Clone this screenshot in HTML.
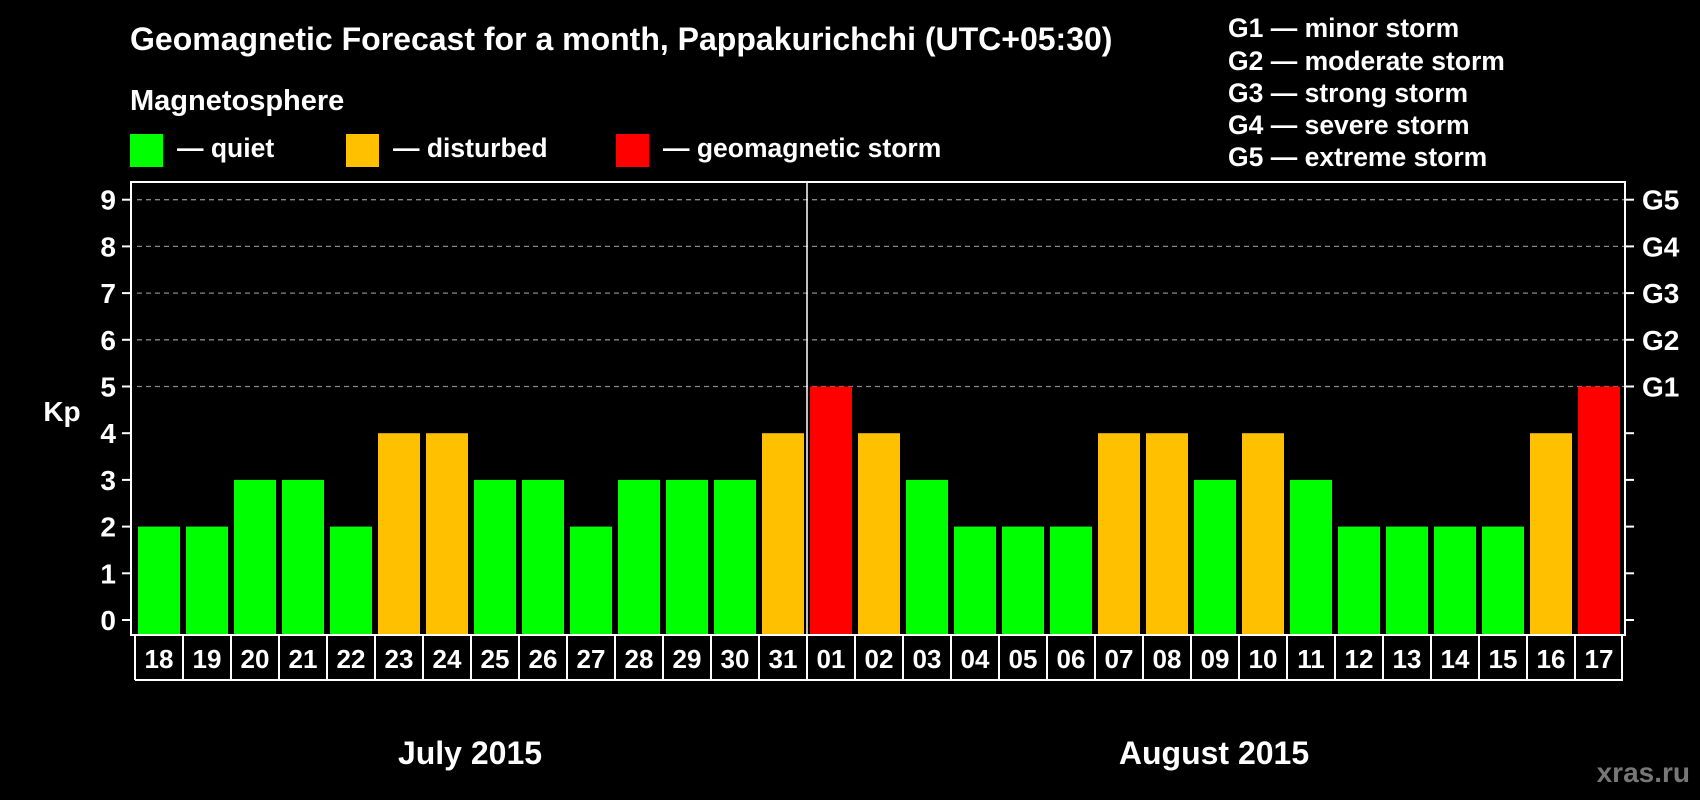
<!DOCTYPE html>
<html><head><meta charset="utf-8"><style>
html,body{margin:0;padding:0;background:#000;}
svg{display:block;font-family:"Liberation Sans",Arial,sans-serif;font-weight:bold;}
</style></head><body>
<svg id="c" width="1700" height="800" viewBox="0 0 1700 800">
<text x="130" y="50" fill="#fff" font-size="32">Geomagnetic Forecast for a month, Pappakurichchi (UTC+05:30)</text>
<text x="130" y="110" fill="#fff" font-size="29">Magnetosphere</text>
<g><rect x="130" y="134" width="33" height="33" fill="#00ff00"/><text x="177" y="157" fill="#fff" font-size="26.5">— quiet</text></g>
<g><rect x="346" y="134" width="33" height="33" fill="#ffc000"/><text x="393" y="157" fill="#fff" font-size="26.5">— disturbed</text></g>
<g><rect x="616" y="134" width="33" height="33" fill="#ff0000"/><text x="663" y="157" fill="#fff" font-size="26.5">— geomagnetic storm</text></g>
<g fill="#fff" font-size="26.5">
<text x="1228" y="37">G1 — minor storm</text>
<text x="1228" y="70">G2 — moderate storm</text>
<text x="1228" y="102">G3 — strong storm</text>
<text x="1228" y="134">G4 — severe storm</text>
<text x="1228" y="166">G5 — extreme storm</text>
</g>
<text x="62" y="421" fill="#fff" font-size="28" text-anchor="middle">Kp</text>
<g id="grid"></g><g id="bars"></g><g id="axes"></g>
<text x="470" y="764" fill="#fff" font-size="32" text-anchor="middle">July 2015</text>
<text x="1214" y="764" fill="#fff" font-size="32" text-anchor="middle">August 2015</text>
<text x="1690" y="782" fill="#777" font-size="28" text-anchor="end">xras.ru</text>
</svg>
<script>
const days=["18","19","20","21","22","23","24","25","26","27","28","29","30","31","01","02","03","04","05","06","07","08","09","10","11","12","13","14","15","16","17"];
const kp=[2,2,3,3,2,4,4,3,3,2,3,3,3,4,5,4,3,2,2,2,4,4,3,4,3,2,2,2,2,4,5];
const yTicks=[0,1,2,3,4,5,6,7,8,9];
const gLabels=["G1","G2","G3","G4","G5"];
const NS="http://www.w3.org/2000/svg";
const L=131,R=1625,T=182,B=635;
const y=v=>620-v*46.7;
const x0=i=>138+i*48;
function mk(t,a,p){const e=document.createElementNS(NS,t);for(const k in a)e.setAttribute(k,a[k]);p.appendChild(e);return e;}
const grid=document.getElementById('grid'),bars=document.getElementById('bars'),axes=document.getElementById('axes');
yTicks.forEach(v=>{
 if(v>=5){const g=mk('line',{x1:L+6,x2:R,y1:y(v),y2:y(v),stroke:'#888','stroke-dasharray':'5,4','stroke-width':1.3},grid);
 
 }
 mk('line',{x1:L-9,x2:L,y1:y(v),y2:y(v),stroke:'#fff','stroke-width':2},axes);
 mk('line',{x1:R,x2:R+9,y1:y(v),y2:y(v),stroke:'#fff','stroke-width':2},axes);
 const t=mk('text',{x:116,y:y(v)+10,fill:'#fff','font-size':28,'text-anchor':'end'},axes);t.textContent=v;
 
 
});
gLabels.forEach((g,i)=>{const t=mk('text',{x:1642,y:y(5+i)+10,fill:'#fff','font-size':28},axes);t.textContent=g;
 
 });
kp.forEach((v,i)=>{
 const c=v>=5?'#ff0000':v>=4?'#ffc000':'#00ff00';
 const r=mk('rect',{x:x0(i),y:y(v),width:42,height:B-y(v),fill:c},bars);
 
 
 const t=mk('text',{x:x0(i)+21,y:668,fill:'#fff','font-size':26,'text-anchor':'middle'},axes);t.textContent=days[i];
 
 
 mk('line',{x1:135+i*48,x2:135+i*48,y1:636,y2:680,stroke:'#fff','stroke-width':2},axes);
});
mk('line',{x1:135+31*48-1,x2:135+31*48-1,y1:636,y2:680,stroke:'#fff','stroke-width':2},axes);
mk('line',{x1:135,x2:135+31*48,y1:680,y2:680,stroke:'#fff','stroke-width':2},axes);
const f=mk('rect',{x:L,y:T,width:R-L,height:B-T,fill:'none',stroke:'#fff','stroke-width':2},axes);


const d=mk('line',{x1:807,x2:807,y1:T,y2:680,stroke:'#fff','stroke-width':1.5},axes);


</script>
</body></html>
